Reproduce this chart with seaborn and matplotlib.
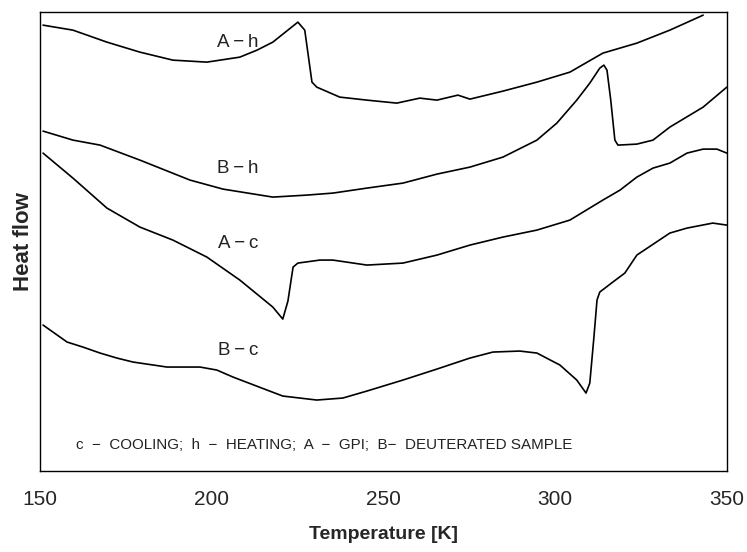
import numpy as np
import pandas as pd
import seaborn as sns
from matplotlib import pyplot as plt

# DSC curves, values (arbitrary heat-flow units)
t_ah = [150.9, 159.6, 169.5, 179.1, 188.7, 198.6, 208.2, 213.2, 217.8, 225.1, 227.1, 229.2,
        230.6, 237.3, 245.2, 253.9, 260.6, 265.6, 271.7, 275.2, 284.8, 294.7, 304.3, 313.9,
        323.8, 333.4, 343.1]
hf_ah = [446, 441, 429, 419, 411, 409, 414, 421, 429, 449, 441, 389,
         384, 374, 371, 368, 373, 371, 376, 372, 380, 389, 399, 418,
         428, 441, 456]

t_bh = [150.9, 159.6, 167.5, 179.1, 193.7, 203.3, 217.8, 227.7, 235.3, 245.2, 255.7,
        265.6, 275.2, 284.8, 294.7, 300.5, 306.3, 310.1, 313.0, 314.2, 315.1, 316.2, 317.4,
        318.3, 323.8, 328.5, 333.4, 343.1, 350.0]
hf_bh = [340, 331, 326, 311, 291, 282, 274, 276, 278, 283, 288,
         297, 304, 314, 331, 348, 371, 388, 403, 406, 401, 371, 331,
         326, 327, 331, 344, 364, 384]

t_ac = [150.9, 159.6, 169.5, 179.1, 188.7, 198.6, 208.2, 217.8, 220.7, 222.2,
        223.7, 225.1, 231.5, 235.3, 245.2, 255.7, 265.6, 275.2, 284.8, 294.7,
        304.3, 313.9, 318.9, 323.8, 328.5, 333.4, 338.4, 343.1, 347.1, 350.0]
hf_ac = [318, 293, 263, 244, 231, 214, 191, 164, 152, 170,
         204, 208, 211, 211, 206, 208, 216, 226, 234, 241,
         251, 271, 281, 294, 303, 308, 318, 322, 322, 318]

t_bc = [150.9, 157.9, 162.5, 167.5, 172.4, 177.1, 187.0, 196.6, 201.5, 206.2, 216.1, 220.7,
        230.6, 238.2, 245.2, 255.7, 265.6, 275.2, 281.9, 289.7, 294.7, 301.4, 306.3, 309.0,
        310.1, 311.3, 312.2, 313.0, 316.8, 320.3, 323.8, 333.4, 338.4, 345.9, 350.0]
hf_bc = [146, 129, 124, 118, 113, 109, 104, 104, 101, 94, 81, 75,
         71, 73, 80, 91, 102, 113, 119, 120, 118, 106, 91, 78,
         88, 134, 171, 179, 189, 198, 216, 238, 243, 248, 246]

curve_names = ["A-h", "B-h", "A-c", "B-c"]
curve_labels = ["A\u2009\u2212\u2009h", "B\u2009\u2212\u2009h", "A\u2009\u2212\u2009c", "B\u2009\u2212\u2009c"]
label_pos = [(207.6, 429), (207.6, 303), (207.6, 228), (207.6, 121)]

x_ticks = [150, 200, 250, 300, 350]
note = "c  \u2212  COOLING;  h  \u2212  HEATING;  A  \u2212  GPI;  B\u2212  DEUTERATED SAMPLE"

df = pd.concat([
    pd.DataFrame({"T": t_ah, "hf": hf_ah, "curve": "A-h"}),
    pd.DataFrame({"T": t_bh, "hf": hf_bh, "curve": "B-h"}),
    pd.DataFrame({"T": t_ac, "hf": hf_ac, "curve": "A-c"}),
    pd.DataFrame({"T": t_bc, "hf": hf_bc, "curve": "B-c"}),
], ignore_index=True)

sns.set_style("white")
plt.rcParams["font.family"] = ["Liberation Sans", "DejaVu Sans"]

fig = plt.figure(figsize=(7.47, 5.52), dpi=100)
ax = fig.add_axes([0.0535, 0.1467, 0.9195, 0.8313])

for name in curve_names:
    sub = df[df["curve"] == name]
    sns.lineplot(x=sub["T"], y=sub["hf"], color="black", linewidth=1.2, ax=ax, sort=False)

for lab, (tx, ty) in zip(curve_labels, label_pos):
    ax.text(tx, ty, lab, fontsize=13.5, ha="center", va="center", color="#222222")

ax.text(232.7, 26, note, fontsize=10.9, ha="center", va="center", color="#222222")

ax.set_xlim(150, 350)
ax.set_ylim(0, 459)
ax.set_xticks(x_ticks)
ax.set_xticklabels([str(v) for v in x_ticks], fontsize=15)
ax.set_yticks([])
ax.tick_params(axis="x", direction="in", length=3, pad=14)
ax.set_xlabel("Temperature [K]", fontsize=14, fontweight="bold", labelpad=12)
ax.set_ylabel("Heat flow", fontsize=16, fontweight="bold", labelpad=4)

for sp in ax.spines.values():
    sp.set_color("black")
    sp.set_linewidth(1.0)

fig.savefig("out.png", dpi=100)
